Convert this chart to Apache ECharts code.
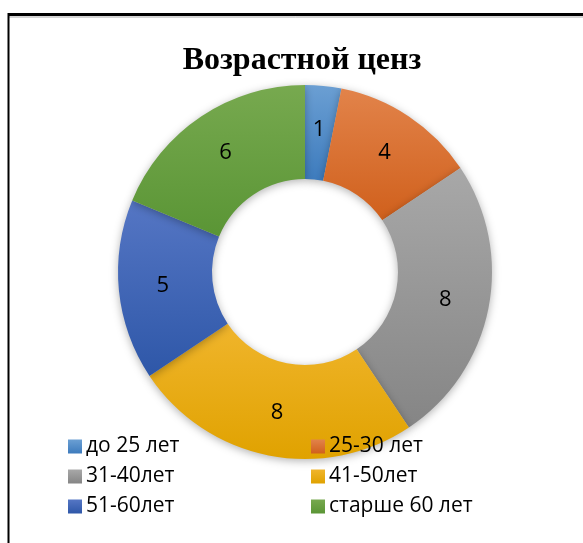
<!DOCTYPE html>
<html>
<head>
<meta charset="utf-8">
<script src="https://cdn.jsdelivr.net/npm/echarts@6/dist/echarts.min.js"></script>
<style>
  html, body { margin: 0; padding: 0; background: #fff; }
  #main { width: 583px; height: 543px; }
</style>
</head>
<body>
<div id="main"></div>
<script>
const categories = ["до 25 лет", "25-30 лет", "31-40лет", "41-50лет", "51-60лет", "старше 60 лет"];
const values = [1, 4, 8, 8, 5, 6];
const topColors = ["#6b9fd3", "#e2834a", "#a8a8a8", "#f0b52c", "#5576c4", "#77a94f"];
const bottomColors = ["#3d7bbd", "#d0601c", "#858585", "#e0a200", "#2e57a8", "#5a9535"];

const mainEl = document.getElementById("main");
let charts = echarts.init(mainEl);

function grad(i) {
    return new echarts.graphic.LinearGradient(0, 0, 0, 1, [
        { offset: 0, color: topColors[i] },
        { offset: 1, color: bottomColors[i] }
    ]);
}

const pieData = categories.map((name, i) => ({
    name: name,
    value: values[i],
    itemStyle: { color: grad(i) }
}));

const legendText = { fontFamily: "Open Sans", fontSize: 21, color: "#000", padding: [0, 0, 0, -1] };

const option = {
    animation: false,
    title: {
        text: "Возрастной ценз",
        left: 297,
        textAlign: "center",
        top: 40,
        textStyle: { fontFamily: "Liberation Serif", fontWeight: "bold", fontSize: 32, color: "#000" }
    },
    legend: [
        {
            orient: "vertical",
            left: 63,
            top: 431,
            itemWidth: 14,
            itemHeight: 14,
            itemGap: 9,
            icon: "rect",
            textStyle: legendText,
            data: [categories[0], categories[2], categories[4]]
        },
        {
            orient: "vertical",
            left: 306,
            top: 431,
            itemWidth: 14,
            itemHeight: 14,
            itemGap: 9,
            icon: "rect",
            textStyle: legendText,
            data: [categories[1], categories[3], categories[5]]
        }
    ],
    graphic: [
        { type: "line", shape: { x1: 8, y1: 14.5, x2: 583, y2: 14.5 }, style: { stroke: "#000", lineWidth: 3 } },
        { type: "line", shape: { x1: 8, y1: 17, x2: 583, y2: 17 }, style: { stroke: "#aaa", lineWidth: 1 } },
        { type: "line", shape: { x1: 8.5, y1: 13, x2: 8.5, y2: 543 }, style: { stroke: "#000", lineWidth: 2 } }
    ],
    series: [
        {
            type: "pie",
            center: [305, 272],
            radius: [93, 187],
            startAngle: 90,
            clockwise: true,
            avoidLabelOverlap: false,
            label: {
                show: true,
                position: "inside",
                formatter: "{c}",
                fontFamily: "Open Sans",
                fontSize: 22,
                color: "#000"
            },
            labelLine: { show: false },
            itemStyle: {
                borderWidth: 0,
                shadowBlur: 8,
                shadowColor: "rgba(0,0,0,0.3)",
                shadowOffsetY: 2
            },
            emphasis: { disabled: true },
            data: pieData
        }
    ]
};

charts.setOption(option);
</script>
</body>
</html>
